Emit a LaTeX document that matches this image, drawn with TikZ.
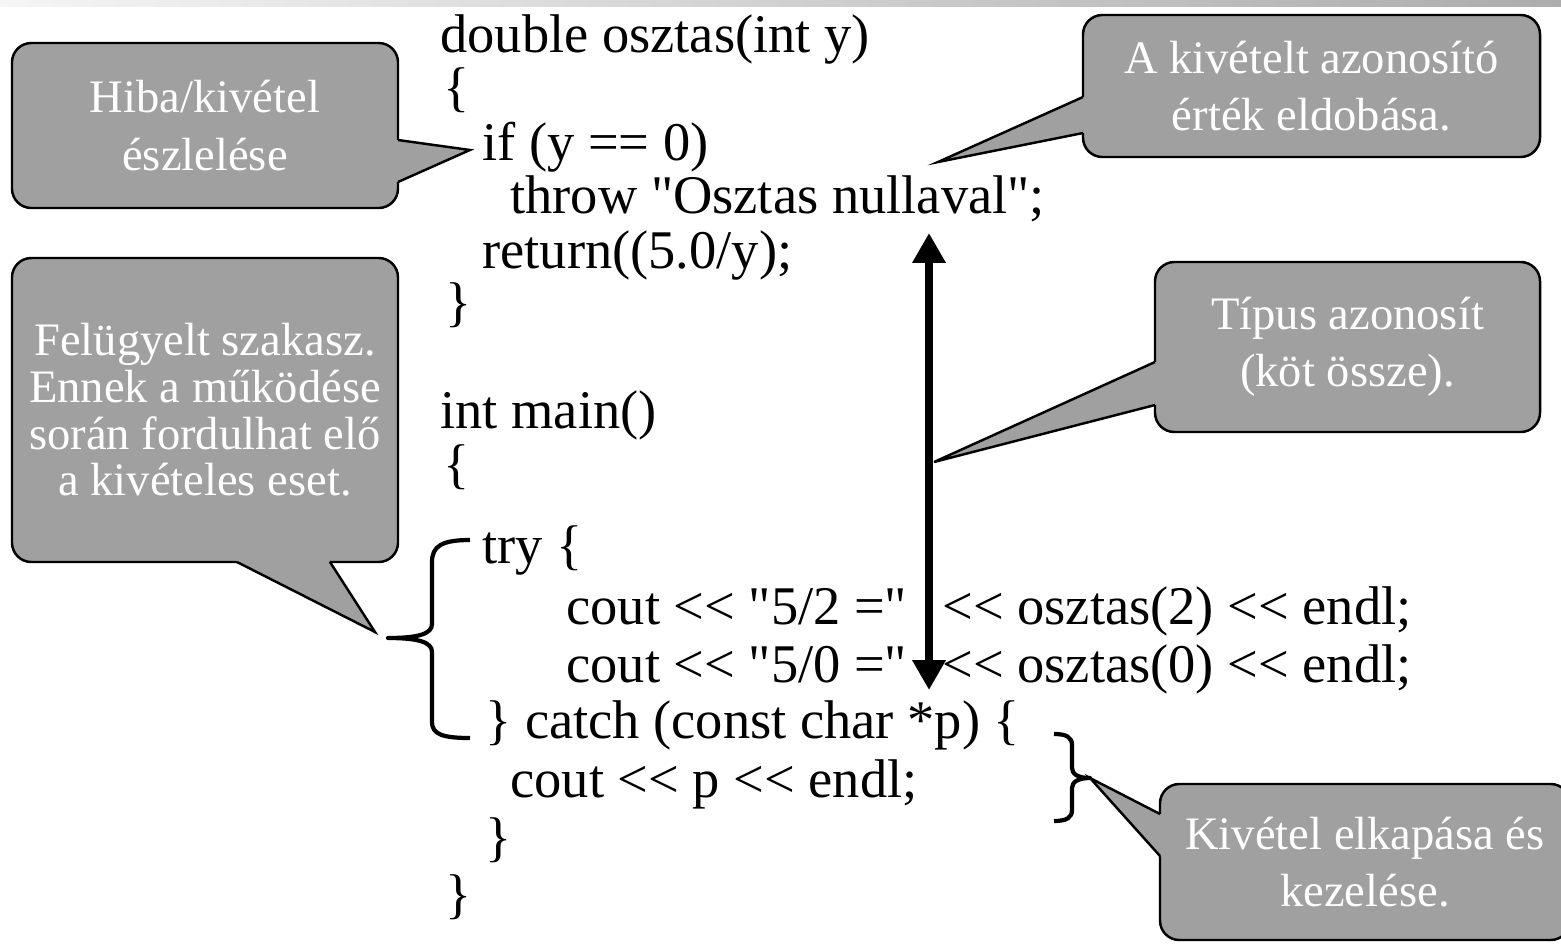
\documentclass[tikz,border=0pt]{standalone}
\usepackage{fontspec}
\setmainfont{Liberation Serif}
\newfontfamily\codefont{Liberation Serif}
\usetikzlibrary{arrows.meta,calc}
\definecolor{bubblegray}{HTML}{A0A0A0}
\tikzset{
  code/.style={anchor=base west,inner sep=0pt,font=\codefont\fontsize{31}{31}\selectfont},
  bubblebox/.style={fill=bubblegray,draw=black,line width=1.4pt,rounded corners=11pt},
  bubbleline/.style={draw=black,line width=1.4pt,line join=miter},
  bubbletext/.style={text=white,align=center,inner sep=0pt,font=\fontsize{26.5}{26.5}\selectfont},
  bracket/.style={line width=2.4pt,line join=round},
}
\def\codeline#1#2#3#4{
  % 1: name
  % 2: x (px)
  % 3: baseline y (px)
  % 4: text
  \node[code] (#1) at (#2,#3) {#4};
}
\def\bubble#1#2#3#4#5#6#7{
  % 1: name
  % 2: top left corner
  % 3: bottom right corner
  % 4: wedge base 1
  % 5: wedge base 2
  % 6: wedge tip
  % 7: text
  \coordinate (#1c) at ($(#2)!.5!(#3)$);
  \draw[bubblebox] (#2) rectangle (#3);
  \fill[bubblegray] (#4) -- (#6) -- (#5) -- ($(#5)!4pt!(#1c)$) -- ($(#4)!4pt!(#1c)$) -- cycle;
  \draw[bubbleline] (#4) -- (#6) -- (#5);
  \node[bubbletext] (#1) at (#1c) {#7};
}

\begin{document}
\begin{tikzpicture}[x=0.02cm,y=-0.02cm]
    \useasboundingbox (0,0) rectangle (1561,947);
    \shade[left color=gray!8,right color=gray!65] (0,0) rectangle (1561,6);

    % code lines
    \codeline{l1}{440}{52}{double osztas(int y)}
    \codeline{l2}{443}{105}{\{}
    \codeline{l3}{482}{160}{if (y == 0)}
    \codeline{l4}{510}{213}{throw "Osztas nullaval";}
    \codeline{l5}{482}{268}{return((5.0/y);}
    \codeline{l6}{445}{320}{\}}
    \codeline{l7}{440}{428}{int main()}
    \codeline{l8}{443}{482}{\{}
    \codeline{l9}{482}{563}{try \{}
    \codeline{l10a}{566}{624}{cout << "5/2 ="}
    \codeline{l10b}{942}{624}{<< osztas(2) << endl;}
    \codeline{l11a}{566}{682}{cout << "5/0 ="}
    \codeline{l11b}{942}{682}{<< osztas(0) << endl;}
    \codeline{l12}{485}{738}{\} catch (const char *p) \{}
    \codeline{l13}{510}{797}{cout << p << endl;}
    \codeline{l14}{485}{855}{\}}
    \codeline{l15}{445}{912}{\}}

    % braces
    \coordinate (trytip) at (388,638);
    \coordinate (catchtip) at (1090,778);
    \draw[bracket] (470,540) .. controls (442,540) and (432,546) .. (432,562) -- (432,624)
      .. controls (432,634) and (418,638) .. (trytip)
      .. controls (418,638) and (432,642) .. (432,652) -- (432,722)
      .. controls (432,734) and (442,738) .. (470,738);
    \draw[bracket] (1054,734) .. controls (1066,734) and (1072,737) .. (1072,745) -- (1072,768)
      .. controls (1072,774) and (1078,778) .. (catchtip)
      .. controls (1078,778) and (1072,782) .. (1072,788) -- (1072,810)
      .. controls (1072,818) and (1066,821) .. (1054,821);

    % throw -> call arrow
    \coordinate (throwpt) at (929,233);
    \coordinate (callpt) at (929,690);
    \coordinate (arrowmid) at (934,462);
    \draw[line width=4.5pt,{Triangle[width=18pt,length=17pt]}-{Triangle[width=18pt,length=17pt]}] (throwpt) -- (callpt);

    % callouts
    \bubble{hiba}{12,43}{398,208}{398,140}{398,182}{470,150}{Hiba/kivétel\\[6pt]észlelése}
    \bubble{dobas}{1083,15}{1540,157}{1083,97}{1083,133}{938,162}{A kivételt azonosító\\[6pt]érték eldobása.}
    \bubble{felugyelt}{12,258}{398,562}{237,562}{330,562}{375,632}{Felügyelt szakasz.\\Ennek a működése\\során fordulhat elő\\a kivételes eset.}
    \bubble{tipus}{1155,262}{1540,432}{1155,362}{1155,405}{arrowmid}{Típus azonosít\\[6pt](köt össze).}
    \bubble{kezeles}{1160,784}{1570,940}{1160,814}{1160,856}{catchtip}{Kivétel elkapása és\\[6pt]kezelése.}
\end{tikzpicture}
\end{document}
